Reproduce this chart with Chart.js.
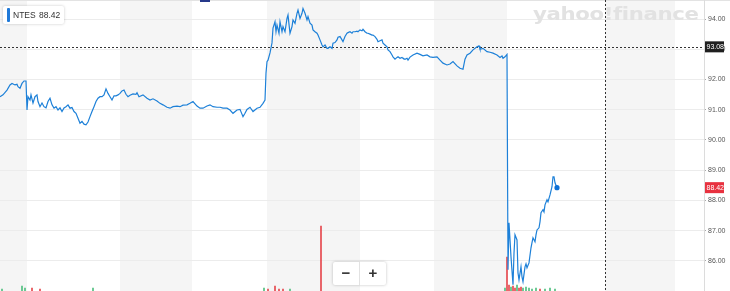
<!DOCTYPE html>
<html>
<head>
<meta charset="utf-8">
<script src="https://cdn.jsdelivr.net/npm/chart.js@4"></script>
<style>
  html, body { margin: 0; padding: 0; background: #fff; }
  #wrap { position: relative; width: 730px; height: 291px; overflow: hidden; font-family: "Liberation Sans", Arial, sans-serif; }
  #legend {
    position: absolute; left: 3px; top: 6px; height: 18px;
    background: #fff; box-shadow: 0 0 3px rgba(0,0,0,0.22); border-radius: 2px;
    font-size: 8.5px; color: #333; line-height: 18px; box-sizing: border-box; padding: 0 4px 0 10px;
    white-space: nowrap; word-spacing: 1px;
  }
  #legend::before {
    content: ""; position: absolute; left: 4px; top: 2px; width: 2.5px; height: 14px;
    background: #1f79d8; border-radius: 1px;
  }
  #logo {
    position: absolute; left: 533px; top: 4px; font-family: "DejaVu Sans", sans-serif;
    font-weight: bold; font-size: 17px; color: #e2e2e2; transform: scaleX(1.25); transform-origin: left top;
    letter-spacing: -0.3px;
  }
  #zoom {
    position: absolute; left: 333px; top: 262px; width: 53px; height: 23px; background: #fff;
    box-shadow: 0 0 3px rgba(0,0,0,0.25); border-radius: 2px; display: flex;
    font-size: 15px; font-weight: bold; color: #333; line-height: 22px;
  }
  #zoom span { flex: 1; text-align: center; }
  #zoom span:first-child { border-right: 1px solid #e2e2e2; }
  #tab { position: absolute; left: 200px; top: 0; width: 10px; height: 2px; background: #26398a; }
</style>
</head>
<body>
<div id="wrap">
  <canvas id="priceChart" width="730" height="291"></canvas>
  <div id="logo">yahoo!finance</div>
  <div id="legend">NTES 88.42</div>
  <div id="tab"></div>
  <div id="zoom"><span>−</span><span>+</span></div>
</div>
<script>
const symbol = "NTES";
const prevClose = 93.08;
const lastPrice = 88.42;
const tickValues = [86, 87, 88, 89, 90, 91, 92, 93, 94];

// time steps along the x axis
const priceTimes = [
  0, 3, 7, 10, 12, 15, 17, 18, 20, 22, 24, 26, 27, 28, 30, 31, 33, 35, 37, 38,
  40, 42, 44, 46, 48, 50, 52, 54, 56, 58, 60, 62, 64, 66, 68, 70, 72, 74, 76, 78,
  80, 82, 84, 86, 88, 90, 92, 94, 96, 98, 100, 102, 104, 106, 108, 110, 112, 114, 116, 118,
  120, 122, 124, 126, 128, 130, 133, 136, 137, 139, 143, 147, 150, 153, 157, 160, 163, 167, 170, 173,
  177, 180, 183, 187, 190, 193, 197, 200, 203, 207, 210, 213, 217, 220, 223, 227, 230, 233, 237, 240,
  243, 245, 247, 250, 253, 257, 260, 263, 265, 266, 267, 268, 270, 272, 273, 275, 276, 277, 279, 280,
  282, 283, 285, 287, 288, 290, 292, 293, 295, 297, 298, 300, 302, 303, 305, 307, 308, 310, 312, 313,
  315, 317, 318, 320, 322, 323, 325, 327, 328, 330, 332, 333, 335, 337, 338, 340, 342, 343, 345, 347,
  348, 350, 352, 353, 355, 357, 358, 360, 362, 363, 365, 367, 368, 370, 372, 373, 375, 377, 378, 380,
  382, 383, 385, 387, 388, 390, 392, 393, 395, 397, 398, 400, 402, 403, 405, 407, 408, 410, 413, 417,
  420, 423, 427, 430, 433, 437, 440, 443, 447, 450, 453, 457, 460, 463, 465, 467, 470, 473, 477, 479,
  480, 483, 487, 490, 493, 497, 500, 502, 503, 505, 507, 508, 509, 511, 513, 514, 515, 517, 518, 519,
  521, 522, 523, 525, 526, 527, 529, 531, 532, 533, 535, 536, 537, 539, 540, 541, 543, 544, 545, 547,
  548, 550, 552, 553, 554, 555, 557
];
const priceValues = [
  91.43, 91.49, 91.65, 91.82, 91.87, 91.82, 91.84, 91.76, 91.71, 91.87, 91.95, 91.95, 90.99, 91.43, 91.32, 91.49, 91.22, 91.43, 91.49, 91.27,
  91.10, 91.22, 91.10, 91.06, 91.27, 91.38, 91.16, 91.05, 91.10, 90.99, 91.06, 90.94, 91.06, 91.10, 91.16, 91.05, 91.07, 90.94, 90.88, 90.72,
  90.55, 90.61, 90.52, 90.50, 90.59, 90.77, 90.94, 91.10, 91.27, 91.38, 91.43, 91.43, 91.49, 91.69, 91.54, 91.43, 91.32, 91.46, 91.46, 91.49,
  91.54, 91.62, 91.65, 91.51, 91.43, 91.48, 91.52, 91.51, 91.56, 91.43, 91.49, 91.38, 91.32, 91.36, 91.29, 91.21, 91.16, 91.08, 91.05, 91.10,
  91.12, 91.10, 91.15, 91.16, 91.21, 91.27, 91.12, 91.05, 91.05, 91.12, 91.16, 91.10, 91.08, 91.08, 91.05, 91.05, 90.99, 90.88, 90.99, 91.01,
  90.77, 90.88, 91.01, 91.08, 90.94, 91.05, 91.08, 91.21, 91.32, 92.21, 92.59, 92.64, 92.88, 93.21, 93.70, 93.91, 93.58, 93.80, 93.53, 93.91,
  93.58, 93.75, 93.58, 94.02, 94.13, 93.53, 93.75, 93.97, 93.86, 94.19, 94.30, 94.02, 94.19, 94.35, 94.19, 93.97, 94.08, 93.86, 93.80, 93.64,
  93.58, 93.53, 93.47, 93.31, 93.14, 93.08, 93.14, 93.03, 93.03, 93.08, 93.03, 93.20, 93.22, 93.31, 93.40, 93.42, 93.31, 93.25, 93.42, 93.53,
  93.55, 93.58, 93.53, 93.58, 93.58, 93.60, 93.58, 93.64, 93.61, 93.66, 93.58, 93.53, 93.53, 93.50, 93.47, 93.47, 93.42, 93.33, 93.25, 93.28,
  93.31, 93.20, 93.14, 93.08, 92.98, 92.92, 92.81, 92.75, 92.67, 92.73, 92.75, 92.70, 92.73, 92.70, 92.67, 92.70, 92.64, 92.74, 92.81, 92.87,
  92.83, 92.78, 92.81, 92.75, 92.73, 92.75, 92.64, 92.54, 92.48, 92.51, 92.59, 92.45, 92.37, 92.34, 92.67, 92.81, 92.87, 92.98, 93.08, 93.11,
  93.00, 93.03, 92.92, 92.90, 92.87, 92.81, 92.73, 92.78, 92.70, 92.75, 92.83, 85.70, 87.26, 86.13, 85.21, 86.26, 86.86, 86.69, 85.60, 85.37,
  85.80, 85.47, 85.31, 85.80, 85.90, 85.77, 85.93, 86.43, 86.60, 86.76, 86.63, 86.86, 87.02, 87.09, 87.29, 87.59, 87.69, 87.62, 87.85, 88.02,
  87.95, 88.18, 88.45, 88.78, 88.78, 88.58, 88.42
];

const volumeTimes = [2, 22, 25, 32, 40, 93, 264, 268, 275, 279, 283, 290, 321, 505, 507, 509, 511, 513, 515, 517, 519, 521, 523, 526, 529, 532, 536, 540, 545, 550, 555];
const volumeValues = [2, 5, 3, 3, 2, 3, 3, 2, 5, 2, 2, 2, 67, 3, 35, 6, 4, 5, 3, 6, 3, 4, 3, 4, 3, 2, 3, 2, 2, 3, 2];
const volumeUp = [1, 1, 1, 0, 0, 1, 1, 0, 0, 0, 0, 1, 0, 1, 0, 0, 1, 0, 0, 1, 0, 0, 1, 1, 1, 1, 1, 0, 1, 1, 1];

// shaded session bands (start, end) in time steps, and the day marker
const bandStarts = [0, 120, 267, 434, 605];
const bandEnds = [27, 192, 360, 507, 675];
const dayMarker = 605;

const decorPlugin = {
  id: 'decor',
  beforeDraw(chart) {
    const { ctx, chartArea: a, scales: { x } } = chart;
    ctx.save();
    ctx.fillStyle = '#f5f5f5';
    bandStarts.forEach((s, i) => {
      const x1 = x.getPixelForValue(s), x2 = x.getPixelForValue(bandEnds[i]);
      ctx.fillRect(x1, a.top, x2 - x1, a.bottom - a.top);
    });
    ctx.fillStyle = '#e3e3e3';
    ctx.fillRect(0, 0, chart.width, 1);
    ctx.restore();
  },
  beforeDatasetsDraw(chart) {
    const { ctx, chartArea: a, scales: { x, y } } = chart;
    ctx.save();
    ctx.strokeStyle = '#333';
    ctx.lineWidth = 1;
    ctx.setLineDash([2, 2]);
    const py = Math.round(y.getPixelForValue(prevClose)) + 0.5;
    ctx.beginPath(); ctx.moveTo(a.left, py); ctx.lineTo(a.right, py); ctx.stroke();
    const mx = Math.round(x.getPixelForValue(dayMarker)) + 0.5;
    ctx.beginPath(); ctx.moveTo(mx, a.top); ctx.lineTo(mx, a.bottom); ctx.stroke();
    ctx.restore();
  },
  afterDraw(chart) {
    const { ctx, chartArea: a, scales: { y } } = chart;
    ctx.save();
    ctx.font = '7px "Liberation Sans", Arial';
    ctx.textBaseline = 'middle';
    [[prevClose, '#1f1f1f'], [lastPrice, '#e8313f']].forEach(([v, c]) => {
      const py = y.getPixelForValue(v);
      ctx.fillStyle = c;
      ctx.fillRect(a.right + 1, py - 5.5, 19, 11);
      ctx.fillStyle = '#fff';
      ctx.fillText(v.toFixed(2), a.right + 2.5, py + 0.5);
    });
    ctx.restore();
  }
};

new Chart(document.getElementById('priceChart'), {
  data: {
    datasets: [
      {
        type: 'scatter',
        label: 'last',
        data: [{ x: priceTimes[priceTimes.length - 1], y: lastPrice }],
        pointRadius: 2.6,
        pointBackgroundColor: '#0b6fd6',
        pointBorderWidth: 0,
        yAxisID: 'y'
      },
      {
        type: 'line',
        label: symbol,
        data: priceTimes.map((t, i) => ({ x: t, y: priceValues[i] })),
        borderColor: '#1d80d8',
        borderWidth: 1.2,
        pointRadius: 0,
        tension: 0,
        yAxisID: 'y'
      },
      {
        type: 'bar',
        label: 'Volume',
        data: volumeTimes.map((t, i) => ({ x: t, y: volumeValues[i] })),
        backgroundColor: volumeUp.map(u => u ? '#4fbf7f' : '#e5484d'),
        barThickness: 1,
        yAxisID: 'yv'
      }
    ]
  },
  options: {
    responsive: false,
    animation: false,
    layout: { padding: 0, autoPadding: false },
    plugins: { legend: { display: false }, tooltip: { enabled: false } },
    scales: {
      x: { type: 'linear', min: 0, max: 704, offset: false, display: false, grid: { offset: false } },
      y: {
        position: 'right',
        min: 85.0,
        max: 94.63,
        afterBuildTicks: axis => { axis.ticks = tickValues.map(v => ({ value: v })); },
        afterFit: axis => { axis.width = 26; axis.paddingTop = 0; axis.paddingBottom = 0; },
        ticks: {
          padding: 2,
          color: '#555',
          font: { size: 7, family: '"Liberation Sans", Arial' },
          callback: v => Number(v).toFixed(2)
        },
        grid: { color: '#ececec', tickLength: 2, tickColor: '#aaa' },
        border: { color: '#dcdcdc' }
      },
      yv: { display: false, min: 0, max: 300 }
    }
  },
  plugins: [decorPlugin]
});
</script>
</body>
</html>
